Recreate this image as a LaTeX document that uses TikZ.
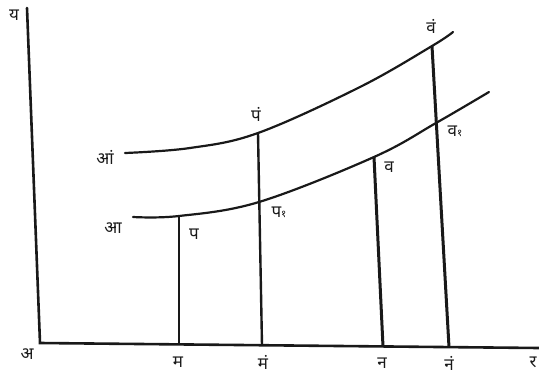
\documentclass[tikz,border=0pt]{standalone}
\usepackage{fontspec}
\newfontfamily\hindi[Script=Devanagari]{Noto Sans}
\usepackage{xcolor}
\definecolor{inkblack}{RGB}{25,25,25}
\usetikzlibrary{positioning}
\newcommand{\dsub}[1]{{\fontsize{10}{10}\selectfont #1}}
\tikzset{
  axisline/.style={draw=inkblack, line width=2.6pt, line cap=round},
  curveline/.style={draw=inkblack, line width=2.2pt, line cap=round},
  ordline/.style={draw=inkblack, line width=2.4pt},
  lbl/.style={font=\hindi\fontsize{17}{19}\selectfont, text=inkblack, inner sep=1pt}
}

\begin{document}
\begin{tikzpicture}[x=1pt,y=-1pt]
  \useasboundingbox (0,0) rectangle (539,376);

  % Axes
  \coordinate (O) at (40,343);
  \coordinate (ytop) at (27,8);
  \coordinate (xend) at (539,348);
  \draw[axisline] (ytop) -- (O) -- (xend);
  \node[lbl] (lY) at (14,15) {य};
  \node[lbl] (lA) at (27,354) {अ};
  \node[lbl] (lR) at (533,362) {र};

  % Feet on the x-axis
  \coordinate (M) at (179,344.4);
  \coordinate (Mp) at (262,345.2);
  \coordinate (N) at (383,346.4);
  \coordinate (Np) at (449,347.1);

  % Lower curve: aa
  \coordinate (a0) at (133,217);
  \coordinate (P) at (179,216);
  \coordinate (P1) at (259,202);
  \coordinate (V) at (374,157);
  \coordinate (V1) at (436,123);
  \coordinate (a1) at (489,92);
  \draw[curveline] plot[smooth, tension=0.6] coordinates {(a0) (P) (P1) (V) (V1) (a1)};
  \node[lbl] (lAa) at (113,228) {आ};

  % Upper curve: aan
  \coordinate (b0) at (125,153);
  \coordinate (b2) at (190,148);
  \coordinate (Pp) at (258,133);
  \coordinate (b3) at (360,87);
  \coordinate (Vp) at (432,46);
  \coordinate (b1) at (453,32);
  \draw[curveline] plot[smooth, tension=0.6] coordinates {(b0) (b2) (Pp) (b3) (Vp) (b1)};
  \node[lbl] (lAan) at (105,157) {आं};

  % Ordinates
  \draw[ordline, line width=1.8pt] (P) -- (M);
  \draw[ordline] (Pp) -- (Mp);
  \draw[ordline, line width=3pt] (V) -- (N);
  \draw[ordline, line width=3pt] (Vp) -- (Np);

  % Point labels
  \node[lbl] (lP) at (194,234) {प};
  \node[lbl] (lP1) at (279,212) {प\dsub{१}};
  \node[lbl] (lPp) at (256,114) {पं};
  \node[lbl] (lV) at (389,167) {व};
  \node[lbl] (lV1) at (455,131) {व\dsub{१}};
  \node[lbl] (lVp) at (431,26) {वं};

  % Axis labels
  \node[lbl] (lM) at (178,362) {म};
  \node[lbl] (lMp) at (263,362) {मं};
  \node[lbl] (lN) at (382,363) {न};
  \node[lbl] (lNp) at (449,363) {नं};
\end{tikzpicture}
\end{document}
